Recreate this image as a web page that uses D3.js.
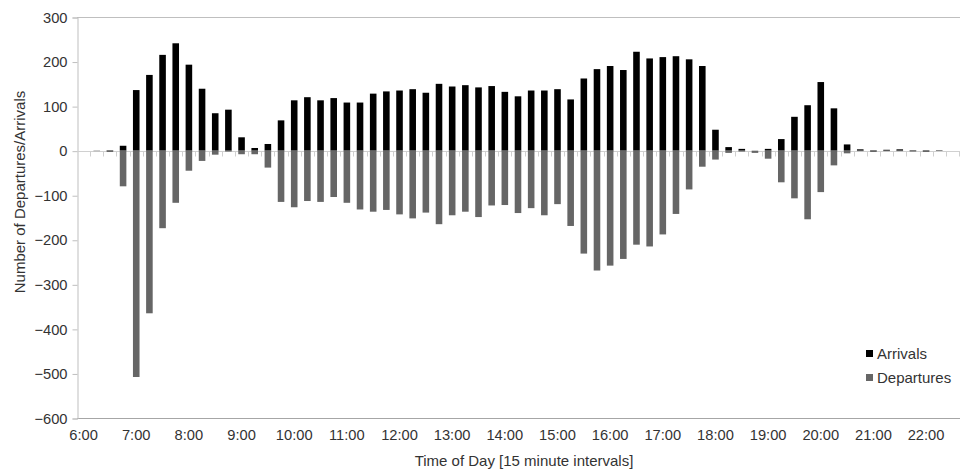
<!DOCTYPE html>
<html>
<head>
<meta charset="utf-8">
<script src="https://cdn.jsdelivr.net/npm/d3@7"></script>
<style>
  html, body { margin: 0; padding: 0; background: #fff; }
  svg { display: block; }
  text { font-family: "Liberation Sans", Arial, sans-serif; }
</style>
</head>
<body>
<svg id="chart" width="961" height="471"></svg>
<script>
const categories = [
  "6:00","6:15","6:30","6:45","7:00","7:15","7:30","7:45",
  "8:00","8:15","8:30","8:45","9:00","9:15","9:30","9:45",
  "10:00","10:15","10:30","10:45","11:00","11:15","11:30","11:45",
  "12:00","12:15","12:30","12:45","13:00","13:15","13:30","13:45",
  "14:00","14:15","14:30","14:45","15:00","15:15","15:30","15:45",
  "16:00","16:15","16:30","16:45","17:00","17:15","17:30","17:45",
  "18:00","18:15","18:30","18:45","19:00","19:15","19:30","19:45",
  "20:00","20:15","20:30","20:45","21:00","21:15","21:30","21:45",
  "22:00","22:15","22:30"
];
const arrivals = [
  0, 0, 1, 11, 136, 170, 215, 241,
  193, 139, 84, 92, 30, 6, 15, 68,
  113, 120, 113, 118, 108, 108, 128, 133,
  135, 138, 130, 150, 144, 147, 142, 145,
  132, 122, 135, 135, 138, 115, 162, 183,
  190, 181, 222, 207, 210, 212, 205, 190,
  47, 8, 4, 0, 4, 26, 76, 102,
  154, 95, 14, 3, 1, 2, 3, 1,
  1, 1, 0
];
const departures = [
  0, -1, -3, -80, -508, -365, -174, -117,
  -45, -23, -9, -2, -8, -8, -38, -115,
  -127, -113, -115, -104, -117, -132, -137, -133,
  -143, -152, -139, -165, -145, -137, -149, -123,
  -122, -140, -129, -145, -120, -169, -231, -269,
  -258, -243, -211, -215, -188, -142, -87, -36,
  -20, -5, -2, -5, -18, -71, -107, -154,
  -93, -33, -6, -1, -3, -1, -1, -2,
  -3, 0, 0
];
const xTickLabels = ["6:00","7:00","8:00","9:00","10:00","11:00","12:00","13:00",
  "14:00","15:00","16:00","17:00","18:00","19:00","20:00","21:00","22:00"];
const yTicks = [300, 200, 100, 0, -100, -200, -300, -400, -500, -600];
const seriesNames = ["Arrivals", "Departures"];
const seriesColors = ["#000000", "#666666"];

(function () {
const svg = d3.select("#chart");
const mLeft = 77, mRight = 959, mTop = 17, mBottom = 418;
const tickFont = 14.7;
const titleFont = 15;
const textColor = "#333333";
const axisColor = "#bfbfbf";

const x = d3.scaleBand().domain(categories).range([mLeft, mRight])
  .paddingInner(0.5).paddingOuter(0.25);
const y = d3.scaleLinear().domain([-600, 300]).range([mBottom, mTop]);
const step = x.step();
const bw = x.bandwidth();

// top and bottom lines
svg.append("line").attr("x1", mLeft).attr("x2", mRight + 1)
  .attr("y1", y(300) + 0.5).attr("y2", y(300) + 0.5)
  .attr("stroke", axisColor).attr("stroke-width", 1);
svg.append("line").attr("x1", mLeft).attr("x2", mRight + 1)
  .attr("y1", y(-600) + 0.5).attr("y2", y(-600) + 0.5)
  .attr("stroke", "#a6a6a6").attr("stroke-width", 1);

// y axis
const yAxis = d3.axisLeft(y).tickValues(yTicks).tickSize(5).tickPadding(5)
  .tickFormat(d3.format("d"));
const gy = svg.append("g").attr("transform", `translate(${mLeft + 0.5},0.5)`).call(yAxis);
gy.select(".domain").attr("stroke", axisColor);
gy.selectAll(".tick line").attr("stroke", axisColor);
gy.selectAll(".tick text").attr("fill", textColor)
  .style("font-size", tickFont + "px").style("font-family", '"Liberation Sans", Arial, sans-serif');

// zero category axis with boundary ticks
const y0 = Math.round(y(0)) + 0.5;
svg.append("line").attr("x1", mLeft).attr("x2", mRight + 1)
  .attr("y1", y0).attr("y2", y0).attr("stroke", "#d0d0d0");
svg.append("g").selectAll("line").data(categories)
  .join("line")
  .attr("x1", d => Math.round(x(d) + bw + step * 0.25) + 0.5)
  .attr("x2", d => Math.round(x(d) + bw + step * 0.25) + 0.5)
  .attr("y1", y0).attr("y2", y0 + 5)
  .attr("stroke", "#d0d0d0");

// bars
svg.append("g").selectAll("rect").data(categories).join("rect")
  .attr("x", d => x(d))
  .attr("width", bw)
  .attr("y", (d, i) => y(Math.max(0, arrivals[i])))
  .attr("height", (d, i) => Math.abs(y(arrivals[i]) - y(0)))
  .attr("fill", seriesColors[0]);
svg.append("g").selectAll("rect").data(categories).join("rect")
  .attr("x", d => x(d))
  .attr("width", bw)
  .attr("y", y(0))
  .attr("height", (d, i) => Math.abs(y(departures[i]) - y(0)))
  .attr("fill", seriesColors[1]);

// x tick labels
svg.append("g").selectAll("text").data(xTickLabels).join("text")
  .attr("x", d => x(d) + bw / 2)
  .attr("y", 440)
  .attr("text-anchor", "middle")
  .attr("fill", textColor)
  .style("font-size", tickFont + "px")
  .text(d => d);

// axis titles
svg.append("text")
  .attr("x", 524).attr("y", 466)
  .attr("text-anchor", "middle").attr("fill", textColor)
  .style("font-size", titleFont + "px")
  .text("Time of Day [15 minute intervals]");
svg.append("text")
  .attr("transform", "translate(25,192) rotate(-90)")
  .attr("text-anchor", "middle").attr("fill", textColor)
  .style("font-size", titleFont + "px")
  .text("Number of Departures/Arrivals");

// legend
const legend = svg.append("g").attr("transform", "translate(866,350)");
seriesNames.forEach((name, i) => {
  const g = legend.append("g").attr("transform", `translate(0,${i * 24})`);
  g.append("rect").attr("x", 0).attr("y", 0).attr("width", 7).attr("height", 7)
    .attr("fill", seriesColors[i]);
  g.append("text").attr("x", 11).attr("y", 8.5).attr("fill", textColor)
    .style("font-size", titleFont + "px").text(name);
});
})();
</script>
</body>
</html>
